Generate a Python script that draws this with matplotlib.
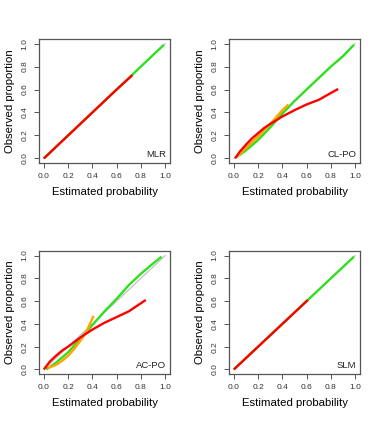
import matplotlib
matplotlib.use("Agg")
import matplotlib.pyplot as plt
import numpy as np

plt.rcParams["font.family"] = ["Liberation Sans", "DejaVu Sans"]

# --- data ---
ticks = [0.0, 0.2, 0.4, 0.6, 0.8, 1.0]
tick_labels = ["0.0", "0.2", "0.4", "0.6", "0.8", "1.0"]

mlr_green_x = [0.0, 0.25, 0.5, 0.73, 0.99]
mlr_green_y = [0.0, 0.25, 0.5, 0.73, 0.99]
mlr_red_x = [0.0, 0.2, 0.4, 0.6, 0.73]
mlr_red_y = [0.0, 0.2, 0.4, 0.6, 0.725]

clpo_green_x = [0.02, 0.1, 0.2, 0.3, 0.4, 0.5, 0.6, 0.7, 0.8, 0.9, 0.99]
clpo_green_y = [0.01, 0.07, 0.16, 0.27, 0.39, 0.5, 0.6, 0.7, 0.8, 0.89, 0.99]
clpo_orange_x = [0.02, 0.1, 0.2, 0.3, 0.4, 0.45]
clpo_orange_y = [0.01, 0.09, 0.19, 0.3, 0.42, 0.47]
clpo_red_x = [0.01, 0.05, 0.1, 0.15, 0.2, 0.25, 0.3, 0.4, 0.5, 0.6, 0.7, 0.75, 0.86]
clpo_red_y = [0.0, 0.06, 0.12, 0.175, 0.22, 0.265, 0.3, 0.365, 0.42, 0.47, 0.51, 0.54, 0.605]

acpo_green_x = [0.02, 0.1, 0.2, 0.3, 0.4, 0.5, 0.6, 0.7, 0.8, 0.9, 0.97]
acpo_green_y = [0.0, 0.06, 0.15, 0.27, 0.39, 0.51, 0.62, 0.74, 0.84, 0.93, 0.99]
acpo_orange_x = [0.03, 0.1, 0.15, 0.2, 0.25, 0.3, 0.35, 0.41]
acpo_orange_y = [0.01, 0.04, 0.075, 0.12, 0.18, 0.25, 0.33, 0.47]
acpo_red_x = [0.0, 0.05, 0.1, 0.15, 0.2, 0.25, 0.3, 0.4, 0.5, 0.6, 0.7, 0.84]
acpo_red_y = [0.0, 0.07, 0.12, 0.165, 0.2, 0.24, 0.28, 0.35, 0.41, 0.46, 0.51, 0.61]

slm_green_x = [0.0, 0.3, 0.61, 0.8, 0.99]
slm_green_y = [0.0, 0.3, 0.61, 0.8, 0.99]
slm_red_x = [0.0, 0.2, 0.4, 0.61]
slm_red_y = [0.0, 0.2, 0.4, 0.61]

GREEN = "#2ee01e"
RED = "#ff0000"
ORANGE = "#ffa500"

panels = [
    ("MLR", [(mlr_green_x, mlr_green_y, GREEN), (mlr_red_x, mlr_red_y, RED)]),
    ("CL-PO", [(clpo_green_x, clpo_green_y, GREEN), (clpo_orange_x, clpo_orange_y, ORANGE),
               (clpo_red_x, clpo_red_y, RED)]),
    ("AC-PO", [(acpo_green_x, acpo_green_y, GREEN), (acpo_orange_x, acpo_orange_y, ORANGE),
               (acpo_red_x, acpo_red_y, RED)]),
    ("SLM", [(slm_green_x, slm_green_y, GREEN), (slm_red_x, slm_red_y, RED)]),
]

W, H = 380, 423
fig = plt.figure(figsize=(W / 100, H / 100), dpi=100)

# panel boxes in pixels: (left, top, right, bottom)
boxes = [(39, 39, 170, 163), (229, 39, 360, 163), (39, 251, 170, 374), (229, 251, 360, 374)]

for (name, curves), (l, t, r, b) in zip(panels, boxes):
    ax = fig.add_axes([l / W, (H - b) / H, (r - l) / W, (b - t) / H])
    ax.plot([0, 1], [0, 1], color="#bbbbbb", linewidth=0.8, zorder=1)
    for xs, ys, c in curves:
        ax.plot(xs, ys, color=c, linewidth=1.7, solid_capstyle="butt",
                solid_joinstyle="round", zorder=2)
    ax.set_xlim(-0.04, 1.04)
    ax.set_ylim(-0.04, 1.04)
    ax.set_xticks(ticks)
    ax.set_xticklabels(tick_labels)
    ax.set_yticks(ticks)
    ax.set_yticklabels(tick_labels, rotation=90, va="center")
    ax.tick_params(axis="both", length=3.5, width=0.7, color="#555555",
                   labelsize=6, labelcolor="#333333", pad=4)
    for s in ax.spines.values():
        s.set_color("#555555")
        s.set_linewidth(0.9)
    ax.set_xlabel("Estimated probability", fontsize=8.2, labelpad=5)
    ax.set_ylabel("Observed proportion", fontsize=8.2, labelpad=5)
    ax.text(0.97, 0.03, name, transform=ax.transAxes, ha="right", va="bottom",
            fontsize=6.8, color="#222222")

fig.savefig("out.png", dpi=100)
